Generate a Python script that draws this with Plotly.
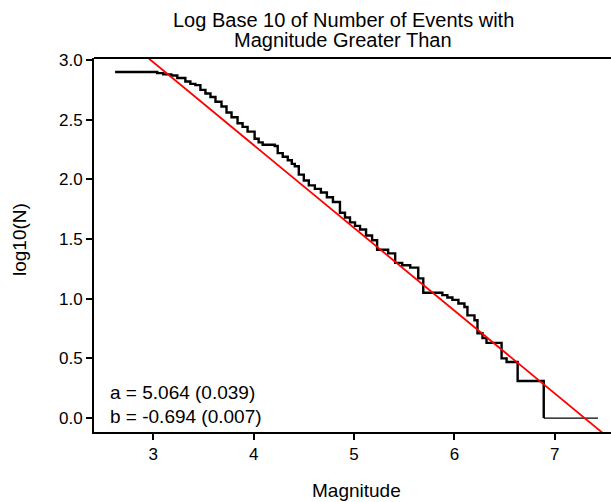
import plotly.graph_objects as go

# Step curve: magnitude thresholds and log10 of cumulative count
step_mag = [2.62, 3.04, 3.10, 3.18, 3.24, 3.32, 3.37, 3.42, 3.47, 3.52, 3.57, 3.62,
            3.68, 3.73, 3.78, 3.84, 3.89, 3.94, 4.01, 4.05, 4.09, 4.21, 4.24, 4.29,
            4.34, 4.38, 4.41, 4.45, 4.50, 4.55, 4.61, 4.67, 4.73, 4.79, 4.86, 4.91,
            4.96, 5.01, 5.06, 5.12, 5.18, 5.23, 5.34, 5.41, 5.48, 5.56, 5.64, 5.69,
            5.88, 5.93, 5.98, 6.04, 6.10, 6.13, 6.20, 6.23, 6.28, 6.32, 6.47, 6.52,
            6.63, 6.70, 6.89]
step_log = [2.90, 2.89, 2.88, 2.87, 2.85, 2.82, 2.80, 2.79, 2.75, 2.72, 2.69, 2.65,
            2.61, 2.56, 2.52, 2.47, 2.44, 2.40, 2.34, 2.31, 2.29, 2.28, 2.22, 2.19,
            2.16, 2.13, 2.11, 2.04, 1.99, 1.95, 1.92, 1.89, 1.85, 1.81, 1.72, 1.68,
            1.64, 1.61, 1.58, 1.53, 1.49, 1.41, 1.38, 1.30, 1.28, 1.26, 1.17, 1.05,
            1.03, 1.01, 0.99, 0.96, 0.93, 0.86, 0.82, 0.71, 0.67, 0.63, 0.50, 0.47,
            0.31, 0.31, 0.00]

# Tail (largest event level)
tail_mag = [6.89, 7.43]
tail_log = [0.0, 0.0]

# Fit parameters
a_val, a_err = 5.064, 0.039
b_val, b_err = -0.694, 0.007
fit_mag = [2.90, 7.55]
fit_log = [a_val + b_val * m for m in fit_mag]

x_ticks = [3, 4, 5, 6, 7]
y_ticks = [0.0, 0.5, 1.0, 1.5, 2.0, 2.5, 3.0]

FONT = "Liberation Sans, Arial, sans-serif"

fig = go.Figure()
fig.add_trace(go.Scatter(x=step_mag, y=step_log, mode="lines", line_shape="hv",
                         line=dict(color="black", width=2.4), showlegend=False))
fig.add_trace(go.Scatter(x=tail_mag, y=tail_log, mode="lines",
                         line=dict(color="black", width=1.2), showlegend=False))
fig.add_trace(go.Scatter(x=fit_mag, y=fit_log, mode="lines",
                         line=dict(color="red", width=1.8), showlegend=False))

fig.update_layout(
    width=611, height=502,
    margin=dict(l=94, r=0, t=58, b=70),
    paper_bgcolor="white", plot_bgcolor="white",
    font=dict(family=FONT, size=17, color="black"),
    xaxis=dict(range=[2.41, 7.56], tickvals=x_ticks, ticktext=[str(v) for v in x_ticks],
               showgrid=False, zeroline=False, showline=True, linecolor="black",
               linewidth=2, ticks="outside", ticklen=6, tickwidth=2, tickcolor="black",
               tickfont=dict(size=17)),
    yaxis=dict(range=[-0.117, 3.017], tickvals=y_ticks,
               ticktext=["%.1f" % v for v in y_ticks],
               showgrid=False, zeroline=False, showline=True, linecolor="black",
               linewidth=2, ticks="outside", ticklen=6, tickwidth=2, tickcolor="black",
               tickfont=dict(size=17)),
    shapes=[dict(type="line", xref="paper", yref="paper", x0=0, x1=1, y0=1, y1=1,
                 line=dict(color="black", width=2))],
    annotations=[
        dict(text="Log Base 10 of Number of Events with", xref="paper", yref="paper",
             x=(343 - 94) / 517, y=(432 - 20) / 374, xanchor="center", yanchor="middle",
             showarrow=False, font=dict(size=20)),
        dict(text="Magnitude Greater Than", xref="paper", yref="paper",
             x=(343 - 94) / 517, y=(432 - 40) / 374, xanchor="center", yanchor="middle",
             showarrow=False, font=dict(size=20)),
        dict(text="a = %.3f (%.3f)" % (a_val, a_err), xref="paper", yref="paper",
             x=(108 - 94) / 517, y=(432 - 392) / 374, xanchor="left", yanchor="middle",
             showarrow=False, font=dict(size=19)),
        dict(text="b = %.3f (%.3f)" % (b_val, b_err), xref="paper", yref="paper",
             x=(108 - 94) / 517, y=(432 - 416) / 374, xanchor="left", yanchor="middle",
             showarrow=False, font=dict(size=19)),
        dict(text="Magnitude", xref="paper", yref="paper",
             x=(356 - 94) / 517, y=(432 - 490) / 374, xanchor="center", yanchor="middle",
             showarrow=False, font=dict(size=19)),
        dict(text="log10(N)", xref="paper", yref="paper", textangle=-90,
             x=(20 - 94) / 517, y=(432 - 240) / 374, xanchor="center", yanchor="middle",
             showarrow=False, font=dict(size=19)),
    ],
)

fig.write_html("out.html")
